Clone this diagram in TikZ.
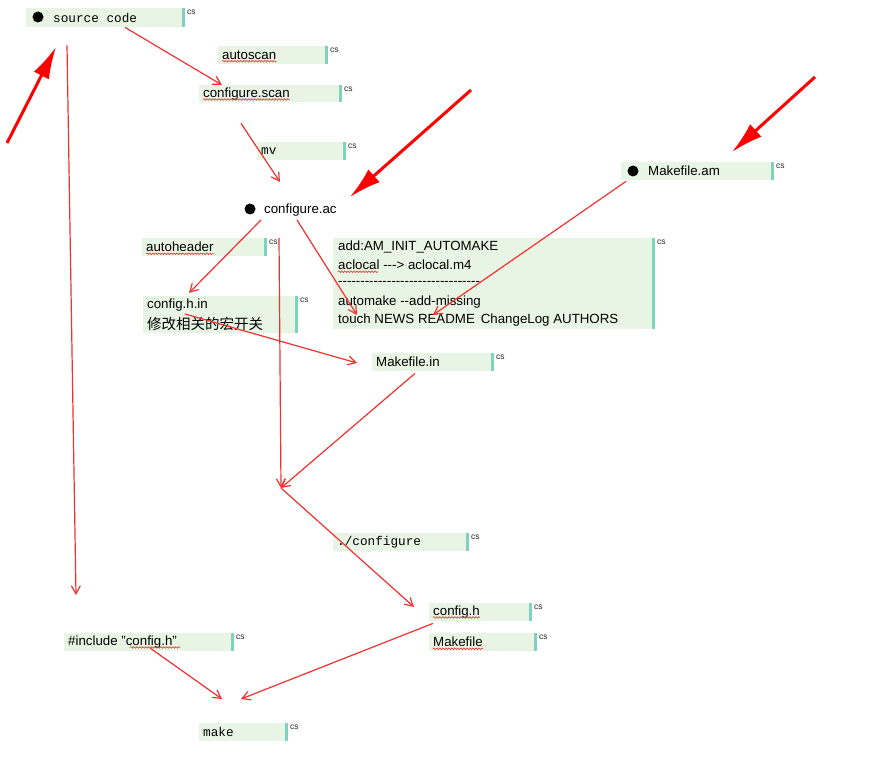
\documentclass[tikz,border=0pt]{standalone}
\usepackage{fontspec}
\setmainfont{Liberation Sans}
\newfontfamily\monof{Liberation Mono}
\newfontfamily\cjk{Noto Sans CJK SC}
\usetikzlibrary{arrows.meta,decorations.pathmorphing}
\definecolor{boxgreen}{RGB}{232,245,228}
\definecolor{barteal}{RGB}{126,210,190}
\definecolor{linered}{RGB}{240,50,50}
\newcommand\hy{-\kern0pt}
\newcommand\dashrow{\hy\hy\hy\hy\hy\hy\hy\hy\hy\hy\hy\hy\hy\hy\hy\hy\hy\hy\hy\hy\hy\hy\hy\hy\hy\hy\hy\hy\hy\hy\hy\hy}
\tikzset{
 boxnode/.style={fill=boxgreen, draw=none, inner sep=0pt, rectangle},
 barline/.style={draw=barteal, line width=2.5pt},
 cslabel/.style={font=\fontsize{8.5}{9}\selectfont, inner sep=0pt, text=black!85},
 txt/.style={font=\fontsize{13.3}{18}\selectfont, inner sep=0pt, anchor=west},
 mono/.style={font=\monof\fontsize{12.7}{16}\selectfont, inner sep=0pt, anchor=west},
 flow/.style={draw=linered, line width=1.2pt, -{Straight Barb[length=8pt,width=9pt]}},
 bigarrow/.style={draw=red, line width=3pt, -{Latex[length=32pt,width=17pt]}},
 squig/.style={draw=red!85, line width=0.6pt, decorate, decoration={snake, amplitude=0.8pt, segment length=3pt}},
 dot/.style={circle, fill=black, inner sep=0pt, minimum size=11pt},
}
\newcommand\greenbox[5]{%
 \node (#1) [boxnode, anchor=north west, minimum width={#4-#2}, minimum height={#5-#3}] at (#2,#3) {};
 \draw[barline] (#1.north east) -- (#1.south east);
 \node (#1-cs) [cslabel, anchor=north west] at ([xshift=3.5pt,yshift=-2pt]#1.north east) {cs};}
\begin{document}
\begin{tikzpicture}[x=1pt,y=-1pt]
\useasboundingbox[fill=white] (0,0) rectangle (869,770);

% boxes and texts
\greenbox{src}{26}{8}{183}{27}
\node (src-dot) [dot] at (38,17) {};
\node (src-t) [mono] at (53,18) {source code};

\greenbox{autoscan}{218}{46}{326}{64}
\node (autoscan-t) [txt] at (222,55) {autoscan};

\greenbox{cscan}{199}{85}{340}{102}
\node (cscan-t) [txt] at (203,94) {configure.scan};

\greenbox{mv}{257}{142}{344}{160}
\node (mv-t) [mono] at (261,151) {mv};

\node (cac-dot) [dot] at (250,209) {};
\node (cac) [txt] at (264,210) {configure.ac};

\greenbox{mam}{621}{162}{772}{180}
\node (mam-dot) [dot] at (633,171) {};
\node (mam-t) [txt] at (648,171) {Makefile.am};

\greenbox{ahead}{142}{238}{265}{256}
\node (ahead-t) [txt] at (146,247) {autoheader};

\greenbox{chin}{143}{296}{296}{333}
\node (chin-t1) [txt] at (147,305) {config.h.in};
\node (chin-t2) [txt, font=\cjk\fontsize{14.5}{18}\selectfont] at (147,324) {修改相关的宏开关};

\greenbox{big}{333}{238}{653}{329}
\node (big-t1) [txt] at (338,247) {add:AM\_INIT\_AUTOMAKE};
\node (big-t2) [txt] at (338,265) {aclocal \hy\hy\hy> aclocal.m4};
\node (big-t3) [txt] at (338,283) {\dashrow};
\node (big-t4) [txt] at (338,302) {automake \hy\hy add-missing};
\node (big-t5) [txt] at (338,320) {touch NEWS README\, ChangeLog AUTHORS};

\greenbox{min}{372}{353}{492}{371}
\node (min-t) [txt] at (376,362) {Makefile.in};

\greenbox{conf}{333}{533}{467}{551}
\node (conf-t) [mono] at (337,542) {./configure};

\greenbox{ch}{429}{603}{530}{621}
\node (ch-t) [txt] at (433,612) {config.h};

\greenbox{mf}{429}{633}{535}{651}
\node (mf-t) [txt] at (433,642) {Makefile};

\greenbox{inc}{64}{633}{232}{651}
\node (inc-t) [txt] at (68,642) {\#include "config.h"};

\greenbox{make}{199}{723}{286}{741}
\node (make-t) [mono] at (203,732) {make};

% spell-check squiggles
\draw[squig] ([yshift=-2pt]autoscan-t.base west) -- ([yshift=-2pt]autoscan-t.base east);
\draw[squig] ([yshift=-2pt]cscan-t.base west) -- ([yshift=-2pt]cscan-t.base east);
\draw[squig] ([yshift=-2pt]ahead-t.base west) -- ([yshift=-2pt]ahead-t.base east);
\draw[squig] ([yshift=-2pt]ch-t.base west) -- ([yshift=-2pt]ch-t.base east);
\draw[squig] ([yshift=-2pt]mf-t.base west) -- ([yshift=-2pt]mf-t.base east);
\draw[squig] ([yshift=-2pt]big-t2.base west) -- ++(40pt,0);
\draw[squig] ([xshift=62pt,yshift=-2pt]inc-t.base west) -- ++(50pt,0);

% connectors
\coordinate (j) at (281,488);
\draw[flow] ([xshift=99pt]src.south west) -- ([xshift=23pt]cscan.north west);
\draw[flow] ([xshift=41pt,yshift=-18pt]src.south west) -- ([xshift=12pt,yshift=38pt]inc.north west);
\draw[flow] ([xshift=42pt,yshift=-21pt]cscan.south west) -- ([xshift=30pt,yshift=27pt]cac-dot.center);
\draw[flow] ([xshift=11pt,yshift=-11pt]cac-dot.center) -- ([xshift=46pt,yshift=3pt]chin.north west);
\draw[flow] ([xshift=29pt,yshift=-29pt]cac-dot.center) -- (j);
\draw[flow] ([xshift=47pt,yshift=-11pt]cac-dot.center) -- ([xshift=24pt,yshift=-77pt]big.north west);
\draw[flow] ([xshift=5pt,yshift=-1pt]mam.south west) -- ([xshift=100pt,yshift=-77pt]big.north west);
\draw[flow] ([xshift=42pt,yshift=-18pt]chin.north west) -- ([xshift=-15pt,yshift=-10pt]min.north west);
\draw[flow] ([xshift=43pt,yshift=-2pt]min.south west) -- (j);
\draw[flow] (j) -- ([xshift=-15pt,yshift=-4pt]ch.north west);
\draw[flow] ([xshift=4pt,yshift=-2pt]ch.south west) -- ([xshift=42pt,yshift=24pt]make.north west);
\draw[flow] ([xshift=86pt,yshift=-15pt]inc.north west) -- ([xshift=23pt,yshift=24pt]make.north west);

% big pointer arrows
\draw[bigarrow] (7,143) -- (56,47);
\draw[bigarrow] (471,90) -- (350,197);
\draw[bigarrow] (815,77) -- (732,152);
\end{tikzpicture}
\end{document}
